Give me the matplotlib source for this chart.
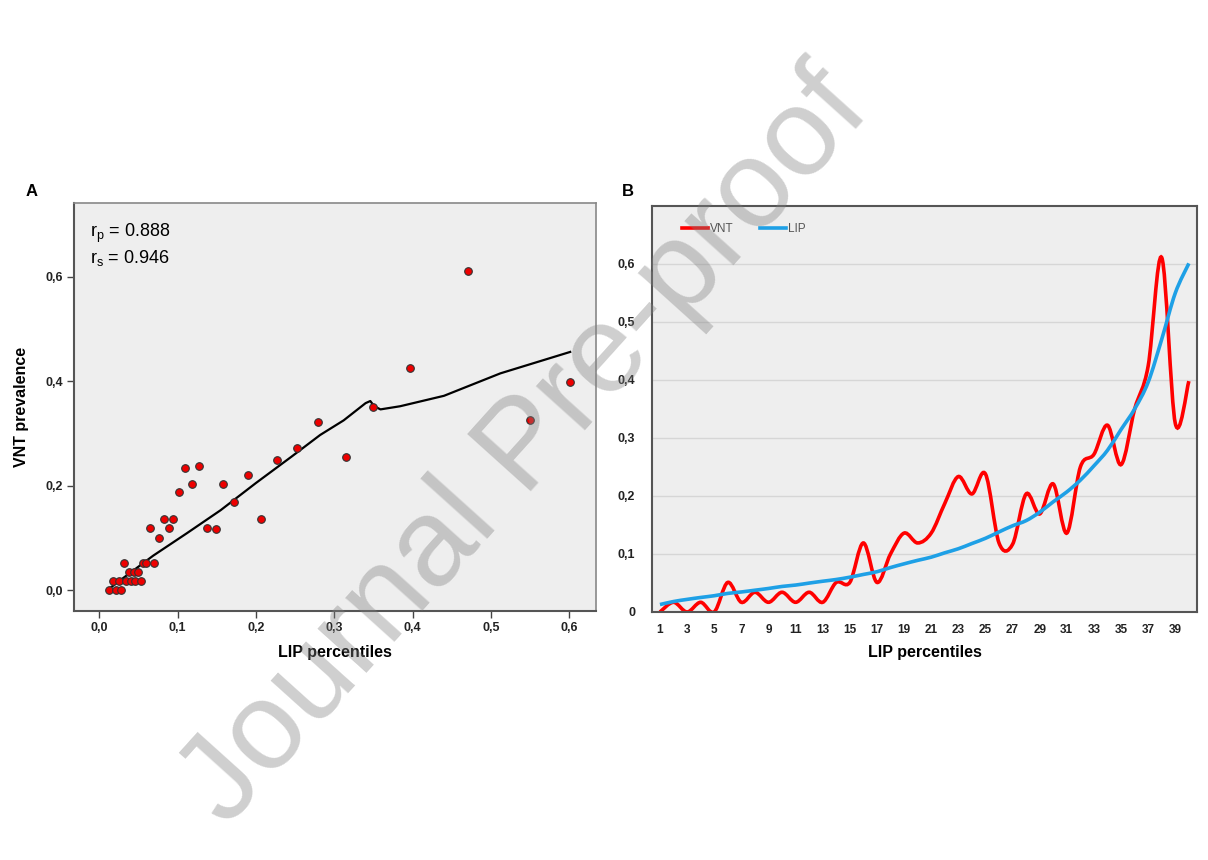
import numpy as np
import matplotlib.pyplot as plt
from matplotlib.path import Path
from matplotlib.patches import PathPatch
from matplotlib.lines import Line2D

plt.rcParams['font.family'] = ['Liberation Sans', 'DejaVu Sans']

# LIP percentile values and VNT prevalence, sorted by LIP (percentiles 1..40)
lip = [0.0128, 0.018, 0.0217, 0.025, 0.028, 0.032, 0.0345, 0.0375, 0.0405, 0.044,
       0.0464, 0.0498, 0.053, 0.056, 0.060, 0.0647, 0.0694, 0.0766, 0.083, 0.089,
       0.0945, 0.102, 0.109, 0.118, 0.127, 0.138, 0.1486, 0.1575, 0.172, 0.19,
       0.207, 0.2273, 0.252, 0.2788, 0.3146, 0.35, 0.3963, 0.4704, 0.55, 0.601]
vnt = [0.0, 0.0167, 0.0, 0.0167, 0.0, 0.051, 0.0167, 0.034, 0.0167, 0.034,
       0.0167, 0.034, 0.0167, 0.051, 0.051, 0.119, 0.051, 0.100, 0.136, 0.119,
       0.136, 0.187, 0.2335, 0.2035, 0.238, 0.119, 0.1167, 0.2035, 0.169, 0.2207,
       0.136, 0.25, 0.2718, 0.322, 0.254, 0.3497, 0.4243, 0.611, 0.325, 0.398]
percentile = list(range(1, 41))

# loess fit line
fit_x = [0.013, 0.027, 0.044, 0.069, 0.112, 0.155, 0.2, 0.245, 0.282, 0.312,
         0.34, 0.346, 0.351, 0.359, 0.384, 0.44, 0.512, 0.601]
fit_y = [0.003, 0.019, 0.038, 0.066, 0.109, 0.153, 0.205, 0.255, 0.297, 0.325,
         0.358, 0.362, 0.352, 0.346, 0.352, 0.372, 0.415, 0.456]

a_ticks = [0.0, 0.1, 0.2, 0.3, 0.4, 0.5, 0.6]
a_yticks = [0.0, 0.2, 0.4, 0.6]
b_xticks = list(range(1, 40, 2))
b_yticks = [0.0, 0.1, 0.2, 0.3, 0.4, 0.5, 0.6]


def comma(v):
    return f"{v:.1f}".replace('.', ',')


def smooth_path(xs, ys):
    # catmull-rom style bezier, like a spreadsheet "smoothed line"
    pts = np.column_stack([xs, ys]).astype(float)
    n = len(pts)
    verts = [pts[0]]
    codes = [Path.MOVETO]
    for i in range(n - 1):
        p0 = pts[i - 1] if i > 0 else pts[i]
        p1 = pts[i]
        p2 = pts[i + 1]
        p3 = pts[i + 2] if i + 2 < n else pts[i + 1]
        c1 = p1 + (p2 - p0) / 6.0
        c2 = p2 - (p3 - p1) / 6.0
        verts += [c1, c2, p2]
        codes += [Path.CURVE4] * 3
    return Path(verts, codes)


fig = plt.figure(figsize=(12.08, 8.6), dpi=100)

# ---- panel A
axA = fig.add_axes([0.0613, 0.2895, 0.4321, 0.4744])
axA.set_facecolor('#eeeeee')
axA.set_xlim(-0.032, 0.634)
axA.set_ylim(-0.04, 0.741)
axA.plot(fit_x, fit_y, color='black', lw=1.6, zorder=2)
axA.scatter(lip, vnt, s=30, color='#ee0000', edgecolor='#333333', lw=0.8, zorder=3)
axA.set_xticks(a_ticks)
axA.set_xticklabels([comma(t) for t in a_ticks], fontweight='bold', fontsize=9, color='#222222')
axA.set_yticks(a_yticks)
axA.set_yticklabels([comma(t) for t in a_yticks], fontweight='bold', fontsize=9, color='#222222')
axA.tick_params(length=5, width=1, color='#444444', pad=3)
for s in ['left', 'bottom']:
    axA.spines[s].set_color('#555555')
    axA.spines[s].set_linewidth(1.5)
for s in ['top', 'right']:
    axA.spines[s].set_color('#888888')
    axA.spines[s].set_linewidth(1.2)
axA.set_xlabel('LIP percentiles', fontweight='bold', fontsize=11.5, labelpad=8)
axA.set_ylabel('VNT prevalence', fontweight='bold', fontsize=11.5, labelpad=12)
axA.text(0.03, 0.955, r'r$_\mathregular{p}$ = 0.888', transform=axA.transAxes,
         fontsize=13, va='top')
axA.text(0.03, 0.89, r'r$_\mathregular{s}$ = 0.946', transform=axA.transAxes,
         fontsize=13, va='top')
fig.text(32 / 1208, 1 - 192 / 860, 'A', fontweight='bold', fontsize=12, ha='center', va='center')

# ---- panel B
axB = fig.add_axes([0.5397, 0.2884, 0.4512, 0.4721])
axB.set_facecolor('#eeeeee')
axB.set_xlim(0.41, 40.6)
axB.set_ylim(0, 0.7)
for t in b_yticks[1:]:
    axB.axhline(t, color='#d6d6d6', lw=1, zorder=1)
axB.add_patch(PathPatch(smooth_path(percentile, lip), fill=False, edgecolor='#1ea0e6',
                        lw=2.6, zorder=3))
axB.add_patch(PathPatch(smooth_path(percentile, vnt), fill=False, edgecolor='#ff0000',
                        lw=2.6, zorder=2))
axB.set_xticks(b_xticks)
axB.set_xticklabels([str(t) for t in b_xticks], fontweight='bold', fontsize=8.5, color='#222222')
axB.set_yticks(b_yticks)
axB.set_yticklabels(['0'] + [comma(t) for t in b_yticks[1:]], fontweight='bold', fontsize=9,
                    color='#222222')
axB.tick_params(length=0, pad=9)
axB.tick_params(axis='y', pad=12)
for s in axB.spines.values():
    s.set_color('#555555')
    s.set_linewidth(1.5)
axB.set_xlabel('LIP percentiles', fontweight='bold', fontsize=11.5, labelpad=6)
handles = [Line2D([], [], color='#ff0000', lw=2.6), Line2D([], [], color='#1ea0e6', lw=2.6)]
axB.legend(handles, ['VNT', 'LIP'], loc='upper left', bbox_to_anchor=(0.035, 0.985), ncol=2,
           frameon=False, fontsize=8.5, handlelength=2.2, handletextpad=0.2, columnspacing=2.2,
           labelcolor='#555555')
fig.text(628 / 1208, 1 - 192 / 860, 'B', fontweight='bold', fontsize=12, ha='center', va='center')

# watermark
fig.text(0.435, 0.478, 'Journal Pre-proof', fontsize=90, rotation=48, color='#808080',
         alpha=0.38, ha='center', va='center', rotation_mode='anchor', zorder=10)

fig.savefig('out.png', dpi=100)
